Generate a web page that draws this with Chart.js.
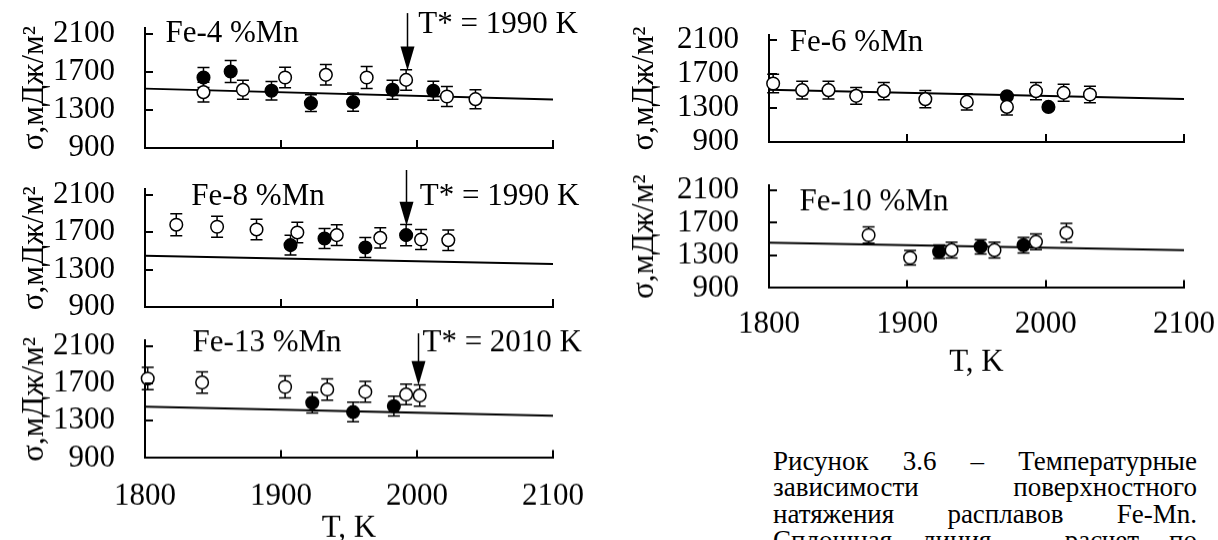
<!DOCTYPE html>
<html><head><meta charset="utf-8">
<script src="https://cdn.jsdelivr.net/npm/chart.js@4.4.1/dist/chart.umd.min.js"></script>
<style>
html,body{margin:0;padding:0;background:#fff;}
body{width:1218px;height:540px;overflow:hidden;position:relative;}
canvas{position:absolute;pointer-events:none;}
.cap{position:absolute;left:773px;width:424px;font-size:27px;line-height:26.5px;height:26.5px;color:#000;text-align:justify;text-align-last:justify;white-space:normal;}
</style>
</head><body>
<div class="cap" style="top:447.5px">Рисунок 3.6 – Температурные</div>
<div class="cap" style="top:474px">зависимости поверхностного</div>
<div class="cap" style="top:500.5px">натяжения расплавов Fe-Mn.</div>
<div class="cap" style="top:527px">Сплошная линия – расчет по</div>
<script>
// ---- axis ticks ----
const xTicks = [1800, 1900, 2000, 2100];
const yTicks = [900, 1300, 1700, 2100];
const fitT = [1800, 2100];

// ---- Fe-4 %Mn ----
const fe4FilledT = [1843, 1863, 1893, 1922, 1953, 1982, 2012];
const fe4FilledS = [1642, 1705, 1502, 1372, 1383, 1512, 1502];
const fe4FilledErr = [105, 115, 98, 88, 95, 100, 100];
const fe4OpenT = [1843, 1872, 1903, 1933, 1963, 1992, 2022, 2043];
const fe4OpenS = [1488, 1512, 1642, 1670, 1642, 1617, 1442, 1414];
const fe4OpenErr = [105, 100, 108, 108, 115, 108, 105, 100];
const fe4Fit = [1525, 1410];

// ---- Fe-8 %Mn ----
const fe8FilledT = [1907, 1932, 1962, 1992];
const fe8FilledS = [1563, 1634, 1538, 1670];
const fe8FilledErr = [107, 107, 107, 113];
const fe8OpenT = [1823, 1853, 1882, 1912, 1941, 1973, 2003, 2023];
const fe8OpenS = [1782, 1760, 1731, 1699, 1670, 1641, 1623, 1616];
const fe8OpenErr = [118, 112, 110, 110, 110, 108, 108, 110];
const fe8Fit = [1450, 1360];

// ---- Fe-13 %Mn ----
const fe13FilledT = [1923, 1953, 1983];
const fe13FilledS = [1493, 1393, 1457];
const fe13FilledErr = [110, 105, 107];
const fe13OpenT = [1802, 1842, 1903, 1934, 1962, 1992, 2002];
const fe13OpenS = [1753, 1711, 1664, 1636, 1611, 1582, 1571];
const fe13OpenErr = [120, 115, 118, 115, 112, 110, 115];
const fe13Fit = [1450, 1355];

// ---- Fe-6 %Mn ----
const fe6FilledT = [1972, 2002];
const fe6FilledS = [1439, 1313];
const fe6FilledErr = [0, 0];
const fe6OpenT = [1803, 1824, 1843, 1863, 1883, 1913, 1943, 1972, 1993, 2013, 2032];
const fe6OpenS = [1588, 1510, 1510, 1443, 1498, 1404, 1372, 1313, 1498, 1478, 1459];
const fe6OpenErr = [110, 105, 105, 98, 102, 102, 95, 95, 102, 100, 98];
const fe6Fit = [1515, 1405];

// ---- Fe-10 %Mn ----
const fe10FilledT = [1923, 1953, 1984];
const fe10FilledS = [1345, 1406, 1426];
const fe10FilledErr = [82, 88, 96];
const fe10OpenT = [1872, 1902, 1932, 1963, 1993, 2015];
const fe10OpenS = [1549, 1271, 1365, 1365, 1467, 1577];
const fe10OpenErr = [100, 90, 96, 96, 96, 115];
const fe10Fit = [1455, 1365];

// ---- texts ----
const yTitle = 'σ,мДж/м²';
const xTitle = 'T, K';

// ---- pick an installed serif face and size it to the reference ----
function pickFont(cands) {
  const c = document.createElement('canvas').getContext('2d');
  const probe = 'Fe-4 %Mn 1990 Рисунок';
  for (const f of cands) {
    c.font = '40px monospace'; const a = c.measureText(probe).width;
    c.font = '40px sans-serif'; const a2 = c.measureText(probe).width;
    c.font = `40px '${f}', monospace`; const b = c.measureText(probe).width;
    c.font = `40px '${f}', sans-serif`; const b2 = c.measureText(probe).width;
    if (Math.abs(a - b) > 0.5 && Math.abs(a2 - b2) > 0.5) return f;
  }
  return null;
}
const picked = pickFont(['Liberation Serif', 'Tinos', 'Times New Roman', 'Nimbus Roman', 'Nimbus Roman No9 L', 'DejaVu Serif', 'Noto Serif', 'FreeSerif', 'Georgia']);
const FAM = picked ? `'${picked}', serif` : 'serif';
const FS = (function () {
  const c = document.createElement('canvas').getContext('2d');
  c.font = '31px ' + FAM;
  const w = c.measureText('1800').width;
  return Math.max(22, Math.min(34, 31 * 62 / w));
})();
document.querySelectorAll('.cap').forEach(el => {
  el.style.fontFamily = FAM;
  el.style.fontSize = (27 * FS / 31).toFixed(2) + 'px';
});

Chart.defaults.font.family = FAM;
Chart.defaults.font.size = FS;
Chart.defaults.color = '#000';
Chart.defaults.animation = false;
Chart.defaults.plugins.legend.display = false;
Chart.defaults.plugins.tooltip.enabled = false;

const pts = (T, S) => T.map((t, i) => ({x: t, y: S[i]}));

const innerTicks = {
  id: 'innerTicks',
  afterDraw(chart) {
    const {ctx, chartArea: a} = chart;
    const xs = chart.scales.x, ys = chart.scales.y;
    ctx.save();
    ctx.strokeStyle = '#000'; ctx.lineWidth = 2;
    ys.ticks.forEach(t => {
      const y = Math.round(ys.getPixelForValue(t.value));
      ctx.beginPath(); ctx.moveTo(a.left, y); ctx.lineTo(a.left + 8, y); ctx.stroke();
    });
    xs.ticks.forEach(t => {
      const x = Math.round(xs.getPixelForValue(t.value));
      ctx.beginPath(); ctx.moveTo(x, a.bottom); ctx.lineTo(x, a.bottom - 8); ctx.stroke();
    });
    ctx.restore();
  }
};

const errorBars = {
  id: 'errorBars',
  beforeDatasetsDraw(chart) {
    const {ctx} = chart;
    const xs = chart.scales.x, ys = chart.scales.y;
    ctx.save();
    ctx.strokeStyle = '#000'; ctx.lineWidth = 1.5;
    chart.data.datasets.forEach(ds => {
      if (!ds.errors) return;
      ds.data.forEach((p, i) => {
        const e = ds.errors[i];
        if (!e) return;
        const x = xs.getPixelForValue(p.x);
        const y1 = ys.getPixelForValue(p.y + e), y2 = ys.getPixelForValue(p.y - e);
        ctx.beginPath();
        ctx.moveTo(x, y1); ctx.lineTo(x, y2);
        ctx.moveTo(x - 6, y1); ctx.lineTo(x + 6, y1);
        ctx.moveTo(x - 6, y2); ctx.lineTo(x + 6, y2);
        ctx.stroke();
      });
    });
    ctx.restore();
  }
};

function notesPlugin(notes) {
  return {
    id: 'notes',
    afterDraw(chart) {
      const {ctx} = chart;
      const xs = chart.scales.x, ys = chart.scales.y;
      ctx.save();
      ctx.fillStyle = '#000'; ctx.strokeStyle = '#000';
      ctx.font = FS + 'px ' + FAM;
      ctx.textBaseline = 'middle'; ctx.textAlign = 'left';
      notes.texts.forEach(n => {
        ctx.fillText(n.text, xs.getPixelForValue(n.x), ys.getPixelForValue(n.y));
      });
      if (notes.arrow) {
        const ar = notes.arrow;
        const x = Math.round(xs.getPixelForValue(ar.x)) + 0.5;
        const yA = ys.getPixelForValue(ar.from), yB = ys.getPixelForValue(ar.to);
        const hh = 24, hw = 7;
        ctx.lineWidth = 1.5;
        ctx.beginPath(); ctx.moveTo(x, yA); ctx.lineTo(x, yB - hh + 2); ctx.stroke();
        ctx.beginPath(); ctx.moveTo(x - hw, yB - hh); ctx.lineTo(x + hw, yB - hh); ctx.lineTo(x, yB); ctx.closePath(); ctx.fill();
      }
      ctx.restore();
    }
  };
}

function makePanel(geo, d, notes) {
  const W = 700;
  const chartTop = geo.y2100 - 60 * (geo.y900 - geo.y2100) / 1200;
  const top = Math.floor(chartTop - 80);
  const XH = geo.xLabels ? geo.xh : 0;
  const bottom = geo.xLabels ? geo.y900 + XH + 60 : geo.y900 + 80;
  const H = bottom - top;
  const cv = document.createElement('canvas');
  cv.width = W; cv.height = H;
  cv.style.left = geo.left + 'px'; cv.style.top = top + 'px';
  cv.style.width = W + 'px'; cv.style.height = H + 'px';
  document.body.appendChild(cv);
  const font = {family: FAM, size: FS, lineHeight: 1.2};
  new Chart(cv, {
    type: 'scatter',
    data: {
      datasets: [
        {data: pts(d.openT, d.openS), errors: d.openErr, pointRadius: 6.3, pointBackgroundColor: '#fff', pointBorderColor: '#000', pointBorderWidth: 1.5, showLine: false, clip: false},
        {data: pts(d.filledT, d.filledS), errors: d.filledErr, pointRadius: 6.3, pointBackgroundColor: '#000', pointBorderColor: '#000', pointBorderWidth: 1.5, showLine: false, clip: false},
        {data: pts(fitT, d.fit), showLine: true, borderColor: '#000', borderWidth: 2, pointRadius: 0, clip: false}
      ]
    },
    options: {
      responsive: false, devicePixelRatio: 1, events: [],
      layout: {padding: {left: 0, top: chartTop - top, right: geo.left + W - geo.x1, bottom: bottom - geo.y900 - XH}},
      scales: {
        x: {
          type: 'linear', min: 1800, max: 2100,
          afterBuildTicks: s => { s.ticks = xTicks.map(v => ({value: v})); },
          afterFit: s => { s.height = XH; },
          grid: {display: false, drawTicks: false},
          border: {display: true, color: '#000', width: 2},
          ticks: {display: geo.xLabels, padding: geo.xpad, maxRotation: 0, autoSkip: false, font, callback: v => String(v)},
          title: {display: geo.xLabels, text: xTitle, font, padding: {top: 0, bottom: 0}}
        },
        y: {
          type: 'linear', min: 900, max: 2160,
          afterBuildTicks: s => { s.ticks = yTicks.map(v => ({value: v})); },
          afterFit: s => { s.width = geo.x0 - geo.left; },
          grid: {display: false, drawTicks: false},
          border: {display: true, color: '#000', width: 2},
          ticks: {padding: 30, autoSkip: false, font, callback: v => String(v)},
          title: {display: true, text: yTitle, font, padding: {top: 16, bottom: 0}}
        }
      }
    },
    plugins: [errorBars, innerTicks, notesPlugin(notes)]
  });
}

makePanel({left: 0, x0: 145, x1: 553, y2100: 34, y900: 148, xLabels: false},
  {openT: fe4OpenT, openS: fe4OpenS, openErr: fe4OpenErr, filledT: fe4FilledT, filledS: fe4FilledS, filledErr: fe4FilledErr, fit: fe4Fit},
  {texts: [{text: 'Fe-4 %Mn', x: 1815, y: 2100}, {text: 'T* = 1990 K', x: 2001, y: 2195}], arrow: {x: 1993, from: 2320, to: 1715}});

makePanel({left: 0, x0: 145, x1: 553, y2100: 195, y900: 307, xLabels: false},
  {openT: fe8OpenT, openS: fe8OpenS, openErr: fe8OpenErr, filledT: fe8FilledT, filledS: fe8FilledS, filledErr: fe8FilledErr, fit: fe8Fit},
  {texts: [{text: 'Fe-8 %Mn', x: 1834, y: 2079}, {text: 'T* = 1990 K', x: 2002, y: 2079}], arrow: {x: 1992, from: 2368, to: 1770}});

makePanel({left: 0, x0: 145, x1: 553, y2100: 346, y900: 458, xLabels: true, xh: 88.6, xpad: 20},
  {openT: fe13OpenT, openS: fe13OpenS, openErr: fe13OpenErr, filledT: fe13FilledT, filledS: fe13FilledS, filledErr: fe13FilledErr, fit: fe13Fit},
  {texts: [{text: 'Fe-13 %Mn', x: 1835, y: 2132}, {text: 'T* = 2010 K', x: 2004, y: 2132}], arrow: {x: 2001, from: 2239, to: 1682}});

makePanel({left: 610, x0: 769, x1: 1184, y2100: 40, y900: 142, xLabels: false},
  {openT: fe6OpenT, openS: fe6OpenS, openErr: fe6OpenErr, filledT: fe6FilledT, filledS: fe6FilledS, filledErr: fe6FilledErr, fit: fe6Fit},
  {texts: [{text: 'Fe-6 %Mn', x: 1815, y: 2065}]});

makePanel({left: 610, x0: 769, x1: 1184, y2100: 190, y900: 288, xLabels: true, xh: 92.6, xpad: 18},
  {openT: fe10OpenT, openS: fe10OpenS, openErr: fe10OpenErr, filledT: fe10FilledT, filledS: fe10FilledS, filledErr: fe10FilledErr, fit: fe10Fit},
  {texts: [{text: 'Fe-10 %Mn', x: 1822, y: 1953}]});
</script>
</body></html>
